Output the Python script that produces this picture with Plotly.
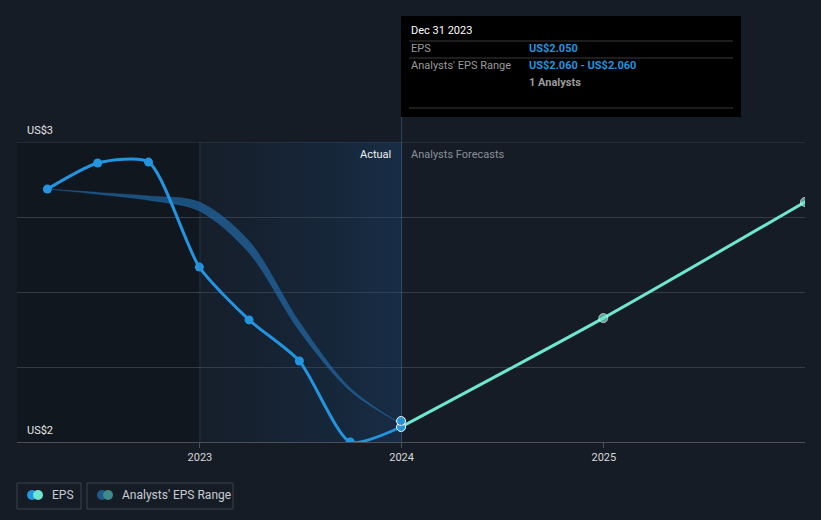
import plotly.graph_objects as go

# ---- data ----
eps_dates = ["2022-03-31", "2022-06-30", "2022-09-30", "2022-12-31",
             "2023-03-31", "2023-06-30", "2023-09-30", "2023-12-31"]
eps_values = [2.843, 2.93, 2.933, 2.583, 2.407, 2.27, 2.0, 2.05]

fc_dates = ["2023-12-31", "2024-12-31", "2025-12-31"]
fc_values = [2.05, 2.413, 2.80]

band_dates = ["2022-03-31", "2022-06-30", "2022-09-30", "2022-12-31",
              "2023-03-31", "2023-06-30", "2023-09-30", "2023-12-31"]
band_high = [2.843, 2.832, 2.82, 2.80, 2.67, 2.40, 2.18, 2.06]
band_low = [2.843, 2.826, 2.806, 2.77, 2.63, 2.37, 2.17, 2.06]

x_ticks = ["2023-01-01", "2024-01-01", "2025-01-01"]
x_tick_labels = ["2023", "2024", "2025"]
y_labels = ["US$2", "US$3"]

BG = "#161c26"
EPS_BLUE = "#2394df"
AQUA = "#6ee6d0"
GRID = "#363c46"
FONT = "Roboto"

L, R, T, B = 17, 16, 142, 78
W, H = 821, 520
PW, PH = W - L - R, H - T - B


def xp(px):
    return (px - L) / PW


def yp(py):
    return (T + PH - py) / PH


fig = go.Figure()

# shaded "actual" region with gradient
fig.add_trace(go.Scatter(
    x=["2023-01-01", "2024-01-01", "2024-01-01", "2023-01-01", "2023-01-01"],
    y=[2, 2, 3, 3, 2], mode="lines", line=dict(width=0), fill="toself",
    fillgradient=dict(type="horizontal",
                      colorscale=[[0, "rgba(20,60,100,0.08)"], [1, "rgba(25,80,135,0.32)"]]),
    hoverinfo="skip", showlegend=False))

# analysts band
fig.add_trace(go.Scatter(x=band_dates, y=band_high, mode="lines",
                         line=dict(width=0.5, color="rgba(35,110,175,0.6)", shape="spline", smoothing=0.9),
                         hoverinfo="skip", showlegend=False))
fig.add_trace(go.Scatter(x=band_dates, y=band_low, mode="lines",
                         line=dict(width=0.5, color="rgba(35,110,175,0.6)", shape="spline", smoothing=0.9),
                         fill="tonexty", fillcolor="rgba(35,110,175,0.65)",
                         hoverinfo="skip", showlegend=False))

# forecast line
fig.add_trace(go.Scatter(x=fc_dates, y=fc_values, mode="lines+markers",
                         line=dict(color=AQUA, width=3, shape="spline", smoothing=0.7),
                         marker=dict(size=[0, 9, 9], color=AQUA),
                         hoverinfo="skip", showlegend=False))

# EPS line
fig.add_trace(go.Scatter(x=eps_dates, y=eps_values, mode="lines+markers",
                         line=dict(color=EPS_BLUE, width=3, shape="spline", smoothing=0.65),
                         marker=dict(size=9, color=EPS_BLUE),
                         hoverinfo="skip", showlegend=False))

# highlighted points at Dec 2023
fig.add_trace(go.Scatter(x=[eps_dates[-1], band_dates[-1]], y=[eps_values[-1], band_low[-1] + 0.01],
                         mode="markers",
                         marker=dict(size=9, color=EPS_BLUE, line=dict(color="white", width=1)),
                         hoverinfo="skip", showlegend=False))

shapes = [
    # dark left region
    dict(type="rect", xref="paper", yref="paper", x0=0, x1=xp(200), y0=0, y1=1,
         fillcolor="rgba(5,8,12,0.25)", line_width=0, layer="below"),
    # top gridline
    dict(type="line", xref="paper", yref="y", x0=0, x1=1, y0=3, y1=3,
         line=dict(color=GRID, width=1), layer="below"),
    # vertical boundary lines
    dict(type="line", xref="x", yref="paper", x0="2023-01-01", x1="2023-01-01", y0=0, y1=1,
         line=dict(color="rgba(60,100,140,0.35)", width=1)),
    dict(type="line", xref="x", yref="paper", x0="2024-01-01", x1="2024-01-01", y0=0, y1=yp(117),
         line=dict(color="rgba(70,120,170,0.45)", width=1)),
    # tooltip box
    dict(type="rect", xref="paper", yref="paper", x0=xp(401), x1=xp(741), y0=yp(117), y1=yp(16),
         fillcolor="#000000", line_width=0),
]
for py in (41, 58, 108):
    shapes.append(dict(type="line", xref="paper", yref="paper", x0=xp(409), x1=xp(733),
                       y0=yp(py), y1=yp(py), line=dict(color="#3a3a3a", width=1)))

# legend boxes
shapes.append(dict(type="rect", xref="paper", yref="paper", x0=xp(17), x1=xp(81), y0=yp(509), y1=yp(483),
                   line=dict(color="#3a404b", width=1), fillcolor="rgba(0,0,0,0)"))
shapes.append(dict(type="rect", xref="paper", yref="paper", x0=xp(87), x1=xp(233), y0=yp(509), y1=yp(483),
                   line=dict(color="#3a404b", width=1), fillcolor="rgba(0,0,0,0)"))
for cx, col in ((32, EPS_BLUE), (38, AQUA), (102, "#1f5a8a"), (108, "#3f8a8a")):
    shapes.append(dict(type="circle", xref="paper", yref="paper", xsizemode="pixel", ysizemode="pixel",
                       xanchor=xp(cx), yanchor=yp(495), x0=-5, x1=5, y0=-5, y1=5,
                       fillcolor=col, line_width=0))

annotations = []


def txt(text, px, py, color, size=11, anchor="left", bold=False):
    annotations.append(dict(text=("<b>%s</b>" % text) if bold else text, xref="paper", yref="paper",
                            x=xp(px), y=yp(py), xanchor=anchor, yanchor="middle", showarrow=False,
                            font=dict(family=FONT, size=size, color=color)))


txt(y_labels[1], 25, 130, "#e6e6e6", 11)
txt(y_labels[0], 25, 430, "#e6e6e6", 11)
txt("Actual", 393, 154, "#f0f0f0", 11, anchor="right")
txt("Analysts Forecasts", 409, 154, "#8a9099", 11)

txt("Dec 31 2023", 409, 31, "#ffffff", 11)
txt("EPS", 409, 49, "#9a9a9a", 11)
txt("US$2.050", 527, 49, EPS_BLUE, 11, bold=True)
txt("Analysts' EPS Range", 409, 66, "#9a9a9a", 11)
txt("US$2.060 - US$2.060", 527, 66, EPS_BLUE, 11, bold=True)
txt("1 Analysts", 527, 83, "#9a9a9a", 11, bold=True)

txt("EPS", 50, 495, "#c8ccd2", 12)
txt("Analysts' EPS Range", 120, 495, "#c8ccd2", 12)

fig.update_layout(
    width=W, height=H,
    margin=dict(l=L, r=R, t=T, b=B, pad=0),
    paper_bgcolor=BG, plot_bgcolor=BG,
    showlegend=False,
    shapes=shapes, annotations=annotations,
    xaxis=dict(type="date", range=["2022-02-04", "2025-12-31"], tickvals=x_ticks, ticktext=x_tick_labels,
               showgrid=False, zeroline=False, showline=True, linecolor="#4a4f58", linewidth=1,
               ticks="outside", ticklen=5, tickcolor="#4a4f58",
               tickfont=dict(family=FONT, size=11, color="#d8d8d8")),
    yaxis=dict(range=[2, 3], tickvals=[2, 2.25, 2.5, 2.75, 3], showticklabels=False,
               showgrid=True, gridcolor=GRID, gridwidth=1, zeroline=False, showline=False),
)

fig.write_html("out.html")
